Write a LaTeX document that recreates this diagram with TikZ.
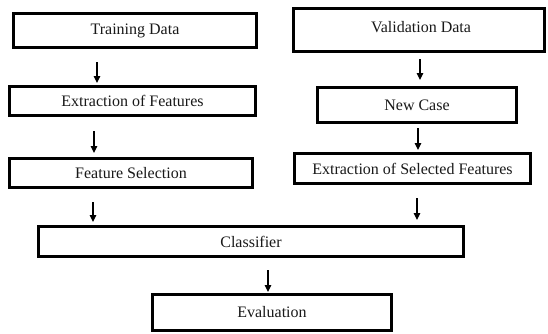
\documentclass[tikz,border=0pt]{standalone}
\usepackage{fontspec}
\setmainfont{Liberation Serif}
\usetikzlibrary{arrows.meta}
\begin{document}
\begin{tikzpicture}[x=1pt,y=-1pt,
  stagebox/.style={draw=black, line width=2.8pt, fill=white, inner sep=0pt,
    font=\fontsize{16}{19}\selectfont, text=black!90},
  arr/.style={line width=1.1pt, -{Triangle[length=7pt,width=6.5pt]}}]
  \useasboundingbox (0,0) rectangle (548,333);

  % left column
  \node[stagebox, minimum width=243.2pt, minimum height=34.2pt] (td) at (135,30.5) {Training Data};
  \node[stagebox, minimum width=246.2pt, minimum height=29.2pt] (ef) at (132.5,101) {Extraction of Features};
  \node[stagebox, minimum width=243.2pt, minimum height=29.2pt] (fs) at (131,173) {Feature Selection};

  % right column
  \node[stagebox, minimum width=251.2pt, minimum height=43.2pt] (vd) at (419,30) {};
  \node[font=\fontsize{16}{19}\selectfont, text=black!90] (vdt) at (421,27) {Validation Data};
  \node[stagebox, minimum width=199.2pt, minimum height=35.2pt] (nc) at (417,105) {New Case};
  \node[stagebox, minimum width=236.2pt, minimum height=30.2pt] (esf) at (412.5,168.5) {Extraction of Selected Features};

  % shared stages
  \node[stagebox, minimum width=425.2pt, minimum height=30.2pt] (cl) at (251,241.5) {Classifier};
  \node[stagebox, minimum width=239.2pt, minimum height=36.2pt] (ev) at (272,312.5) {Evaluation};

  % arrow columns
  \coordinate (xa) at (97,0);
  \coordinate (xb) at (94,0);
  \coordinate (xc) at (93,0);
  \coordinate (xd) at (420,0);
  \coordinate (xe) at (418,0);
  \coordinate (xf) at (417,0);
  \coordinate (xg) at (268,0);

  \draw[arr, shorten <=13pt, shorten >=2pt] (td.south -| xa) -- (ef.north -| xa);
  \draw[arr, shorten <=14pt, shorten >=4pt] (ef.south -| xb) -- (fs.north -| xb);
  \draw[arr, shorten <=13pt, shorten >=3pt] (fs.south -| xc) -- (cl.north -| xc);
  \draw[arr, shorten <=6pt, shorten >=6pt] (vd.south -| xd) -- (nc.north -| xd);
  \draw[arr, shorten <=4pt, shorten >=2pt] (nc.south -| xe) -- (esf.north -| xe);
  \draw[arr, shorten <=13pt, shorten >=5pt] (esf.south -| xf) -- (cl.north -| xf);
  \draw[arr, shorten <=12pt, shorten >=1pt] (cl.south -| xg) -- (ev.north -| xg);
\end{tikzpicture}
\end{document}
